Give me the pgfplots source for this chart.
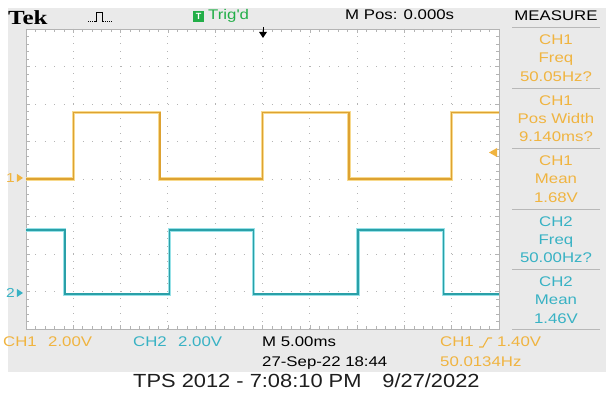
\documentclass[border=0pt]{standalone}
\usepackage{fontspec}
\usepackage{pgfplots}
\pgfplotsset{compat=1.18}
\usetikzlibrary{backgrounds}
\setmainfont{Liberation Sans}
\newfontfamily\scr[FakeStretch=1.2]{Liberation Sans}
\newfontfamily\tekf[FakeStretch=1.25]{Liberation Serif}
\newfontfamily\capf[FakeStretch=1.15]{Liberation Sans}
\newcommand{\sz}[1]{\fontsize{#1}{#1}\selectfont}
\definecolor{scrbg}{HTML}{EAEAEA}
\definecolor{sepc}{HTML}{B8B8B8}
\definecolor{chA}{HTML}{F0B440}
\definecolor{chB}{HTML}{38B2C4}
\definecolor{chAcore}{HTML}{DDA232}
\definecolor{chAglow}{HTML}{F8DA8E}
\definecolor{chBcore}{HTML}{2AA0A8}
\definecolor{chBglow}{HTML}{98E2E8}
\definecolor{trg}{HTML}{22AE48}
\definecolor{gridc}{HTML}{B4B4B4}
\definecolor{captc}{HTML}{1E1E1E}
\begin{document}
\begin{tikzpicture}[x=1pt,y=1pt]
\begin{axis}[
  name=ax, at={(0pt,0pt)}, anchor=south west,
  width=473pt, height=300pt, scale only axis,
  xmin=-25, xmax=25, ymin=-4, ymax=4,
  xtick={-25,-20,...,25}, ytick={-4,-3,...,4},
  minor x tick num=4, minor y tick num=4,
  xticklabels={}, yticklabels={},
  tick align=inside, major tick length=4pt, minor tick length=3pt,
  tick style={color=gridc, line width=0.6pt},
  axis line style={color=gridc, line width=0.6pt},
  grid=major,
  major x grid style={color=gridc, line width=0.9pt, dash pattern=on 0.9pt off 6.6pt},
  major y grid style={color=gridc, line width=0.9pt, dash pattern=on 0.9pt off 8.56pt},
  axis background/.style={fill=white},
]
\addplot[color=chAglow, line width=3.2pt, line join=miter] coordinates {
  (-25,0) (-20,0) (-20,1.77) (-10.86,1.77) (-10.86,0) (0,0) (0,1.77) (9.14,1.77) (9.14,0) (20,0) (20,1.77) (25,1.77)};
\addplot[color=chAcore, line width=1.5pt, line join=miter] coordinates {
  (-25,0) (-20,0) (-20,1.77) (-10.86,1.77) (-10.86,0) (0,0) (0,1.77) (9.14,1.77) (9.14,0) (20,0) (20,1.77) (25,1.77)};
\addplot[color=chBglow, line width=3.2pt, line join=miter] coordinates {
  (-25,-1.36) (-20.9,-1.36) (-20.9,-3.07) (-9.85,-3.07) (-9.85,-1.36) (-0.95,-1.36) (-0.95,-3.07) (10.1,-3.07) (10.1,-1.36) (19.15,-1.36) (19.15,-3.07) (25,-3.07)};
\addplot[color=chBcore, line width=1.5pt, line join=miter] coordinates {
  (-25,-1.36) (-20.9,-1.36) (-20.9,-3.07) (-9.85,-3.07) (-9.85,-1.36) (-0.95,-1.36) (-0.95,-3.07) (10.1,-3.07) (10.1,-1.36) (19.15,-1.36) (19.15,-3.07) (25,-3.07)};
\end{axis}
\begin{scope}[shift={(ax.south west)}, xshift=-26pt, yshift=-70pt]
\begin{scope}[on background layer]
\fill[white] (0,0) rectangle (606,399);
\fill[scrbg] (8,27) rectangle (606,391);
\end{scope}
% top bar
\node[anchor=base west, inner sep=0, font=\tekf\bfseries\sz{20}] at (8,374) {Tek};
\draw[black, line width=0.7pt, dash pattern=on 0.8pt off 1.2pt] (88,378) -- (95,378);
\draw[black, line width=0.8pt] (95,378) -- (96,378) -- (96,387) -- (102,387) -- (102,378) -- (103,378);
\draw[black, line width=0.7pt, dash pattern=on 0.8pt off 1.2pt] (103,378) -- (112,378);
\fill[trg] (193,377) rectangle (204,388);
\node[inner sep=0, text=white, font=\bfseries\sz{9}] at (198.5,382.5) {T};
\node[anchor=base west, inner sep=0, text=trg, font=\scr\sz{14}] at (208,379) {Trig'd};
\node[anchor=base west, inner sep=0, font=\scr\sz{14}] at (345,379) {M Pos: 0.000s};
\node[anchor=base, inner sep=0, font=\scr\sz{14}] at (556,378) {MEASURE};
% trigger position arrow
\draw[black, line width=1pt] (263,372) -- (263,366);
\fill[black] (259,367) -- (267,367) -- (263,361) -- cycle;
% trigger level arrow
\fill[chA] (489,246.5) -- (497,251) -- (497,242) -- cycle;
% ground markers
\node[anchor=base east, inner sep=0, text=chA, font=\scr\sz{13}] at (15,216) {1};
\fill[chA] (17,225) -- (23,221) -- (17,217) -- cycle;
\node[anchor=base east, inner sep=0, text=chB, font=\scr\sz{13}] at (15,101) {2};
\fill[chB] (17,110) -- (23,106) -- (17,102) -- cycle;
% measure panel separators
\foreach \yy in {371,310.5,250,189.5,129,69} {\draw[sepc, line width=1pt] (512,\yy) -- (600,\yy);}
% panel text
\begin{scope}[every node/.style={anchor=base, inner sep=0, font=\scr\sz{14}}]
\node[text=chA] at (556,354) {CH1};
\node[text=chA] at (556,336) {Freq};
\node[text=chA] at (556,317.5) {50.05Hz?};
\node[text=chA] at (556,293.5) {CH1};
\node[text=chA] at (556,275.5) {Pos Width};
\node[text=chA] at (556,257) {9.140ms?};
\node[text=chA] at (556,233) {CH1};
\node[text=chA] at (556,215) {Mean};
\node[text=chA] at (556,196.5) {1.68V};
\node[text=chB] at (556,172.5) {CH2};
\node[text=chB] at (556,154.5) {Freq};
\node[text=chB] at (556,136) {50.00Hz?};
\node[text=chB] at (556,112) {CH2};
\node[text=chB] at (556,94) {Mean};
\node[text=chB] at (556,75.5) {1.46V};
\end{scope}
% bottom rows
\begin{scope}[every node/.style={anchor=base west, inner sep=0, font=\scr\sz{14}}]
\node[text=chA] at (3,52) {CH1};
\node[text=chA] at (48,52) {2.00V};
\node[text=chB] at (133,52) {CH2};
\node[text=chB] at (178,52) {2.00V};
\node at (262,52) {M 5.00ms};
\node at (262,32) {27{-}Sep{-}22 18:44};
\node[text=chA] at (440,52) {CH1};
\node[text=chA] at (497,52) {1.40V};
\node[text=chA] at (440,32) {50.0134Hz};
\end{scope}
\draw[chA, line width=1.1pt] (479,52) -- (483,52) -- (488,61) -- (492,61);
% caption
\node[anchor=base west, inner sep=0, text=captc, font=\capf\sz{19}] at (133,11) {TPS 2012 - 7:08:10 PM\hspace{1.1em}9/27/2022};
\pgfresetboundingbox
\path[use as bounding box] (0,0) rectangle (606,399);
\end{scope}
\end{tikzpicture}
\end{document}
